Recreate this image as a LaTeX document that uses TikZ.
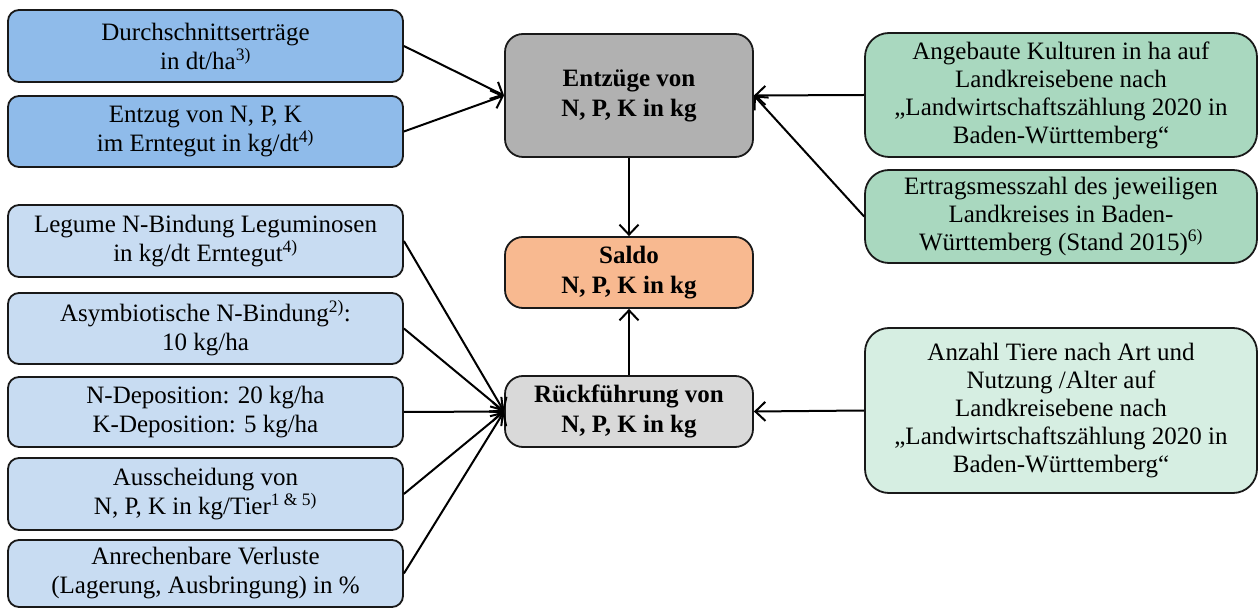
\documentclass[tikz,border=0pt]{standalone}
\usepackage{fontspec}
\setmainfont{Liberation Serif}
\usetikzlibrary{arrows.meta}
\definecolor{dblue}{HTML}{8FBBEA}
\definecolor{lblue}{HTML}{C8DCF2}
\definecolor{dgreen}{HTML}{A9D8BF}
\definecolor{lgreen}{HTML}{D6EEE2}
\definecolor{dgray}{HTML}{B1B1B1}
\definecolor{lgray}{HTML}{D9D9D9}
\definecolor{orng}{HTML}{F8B990}
\tikzset{
  box/.style={draw=black!90, line width=1.8pt, align=center, inner sep=2pt,
    font=\fontsize{25}{29}\selectfont},
  leftbox/.style={box, rounded corners=11pt, minimum width=395pt},
  midbox/.style={box, rounded corners=18pt, minimum width=248pt, font=\fontsize{25}{30}\selectfont\bfseries},
  rightbox/.style={box, rounded corners=24pt, minimum width=392pt, font=\fontsize{25}{28}\selectfont},
  conn/.style={line width=2pt, -{Straight Barb[length=10pt,width=19pt,line width=2pt]}}
}
\begin{document}
\begin{tikzpicture}[x=1pt,y=-1pt]
\useasboundingbox (0,0) rectangle (1259,609);
% left boxes
\node[leftbox, fill=dblue, minimum height=72pt] (d1) at (205.5,46) {Durchschnittserträge\\in dt/ha\textsuperscript{3)}};
\node[leftbox, fill=dblue, minimum height=71pt] (d2) at (205.5,131.5) {Entzug von N, P, K\\im Erntegut in kg/dt\textsuperscript{4)}};
\node[leftbox, fill=lblue, minimum height=72pt] (l3) at (205.5,241) {Legume N-Bindung Leguminosen\\in kg/dt Erntegut\textsuperscript{4)}};
\node[leftbox, fill=lblue, minimum height=71pt] (l4) at (205.5,328.5) {Asymbiotische N-Bindung\textsuperscript{2)}:\\10 kg/ha};
\node[leftbox, fill=lblue, minimum height=70pt] (l5) at (205.5,412) {N-Deposition: 20 kg/ha\\K-Deposition: 5 kg/ha};
\node[leftbox, fill=lblue, minimum height=72pt] (l6) at (205.5,494) {Ausscheidung von\\N, P, K in kg/Tier\textsuperscript{1 \& 5)}};
\node[leftbox, fill=lblue, minimum height=67pt] (l7) at (205.5,573.5) {Anrechenbare Verluste\\(Lagerung, Ausbringung) in \%};
% middle boxes
\node[midbox, fill=dgray, minimum height=123pt] (entz) at (629,95.5) {Entzüge von\\N, P, K in kg};
\node[midbox, fill=orng, minimum height=71pt] (saldo) at (629,272.5) {Saldo\\N, P, K in kg};
\node[midbox, fill=lgray, minimum height=71pt] (rueck) at (629,411.5) {Rückführung von\\N, P, K in kg};
% right boxes
\node[rightbox, fill=dgreen, minimum height=124pt] (ang) at (1061,95) {Angebaute Kulturen in ha auf\\Landkreisebene nach\\„Landwirtschaftszählung 2020 in\\Baden-Württemberg“};
\node[rightbox, fill=dgreen, minimum height=93pt] (ert) at (1061,216.5) {Ertragsmesszahl des jeweiligen\\Landkreises in Baden-\\Württemberg (Stand 2015)\textsuperscript{6)}};
\node[rightbox, fill=lgreen, minimum height=165pt] (anz) at (1061,410.5) {Anzahl Tiere nach Art und\\Nutzung /Alter auf\\Landkreisebene nach\\„Landwirtschaftszählung 2020 in\\Baden-Württemberg“};
% connectors
\draw[conn] (d1.east) -- (entz.west);
\draw[conn] (d2.east) -- (entz.west);
\draw[conn] (ang.west) -- (entz.east);
\draw[conn] (ert.west) -- (entz.east);
\draw[conn] (entz.south) -- (saldo.north);
\draw[conn] (rueck.north) -- (saldo.south);
\draw[conn] (anz.west) -- (rueck.east);
\foreach \n in {l3,l4,l5,l6,l7} \draw[conn] (\n.east) -- (rueck.west);
\end{tikzpicture}
\end{document}
